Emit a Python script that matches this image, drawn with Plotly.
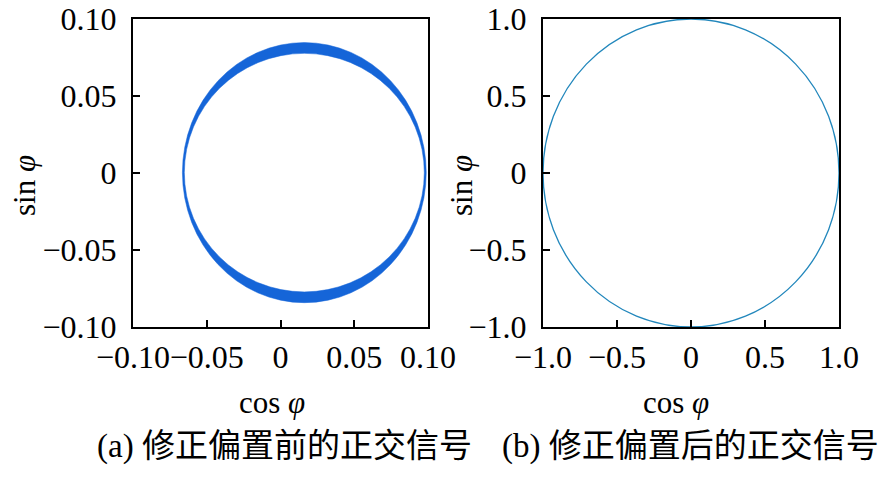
import plotly.graph_objs as go

# left panel: band between two ellipses (extents)
band_outer = [-0.0665, 0.0988, -0.0842, 0.0847]   # x0, x1, y0, y1
band_inner = [-0.0652, 0.0975, -0.0772, 0.0777]
# right panel: corrected signal, unit circle
circle_box = [-1.0, 1.0, -1.0, 1.0]

left_ticks = [-0.10, -0.05, 0, 0.05, 0.10]
left_text = ["\u22120.10", "\u22120.05", "0", "0.05", "0.10"]
right_ticks = [-1.0, -0.5, 0, 0.5, 1.0]
right_text = ["\u22121.0", "\u22120.5", "0", "0.5", "1.0"]

captions = ["(a) 修正偏置前的正交信号", "(b) 修正偏置后的正交信号"]

SERIF = "Liberation Serif, Times New Roman, serif"
MIXED = "Liberation Serif, Noto Sans CJK SC, serif"
W, H = 886, 477


def px(x):
    return x / W


def py_(y):
    return (H - y) / H


fig = go.Figure()
fig.add_trace(go.Scatter(x=[], y=[], xaxis="x", yaxis="y", showlegend=False))
fig.add_trace(go.Scatter(x=[], y=[], xaxis="x2", yaxis="y2", showlegend=False))


def ellipse(box, xref, yref, **kw):
    fig.add_shape(type="circle", xref=xref, yref=yref,
                  x0=box[0], x1=box[1], y0=box[2], y1=box[3], layer="below", **kw)


ellipse(band_outer, "x", "y", fillcolor="#1565D8", line=dict(color="#1565D8", width=0.5))
ellipse(band_inner, "x", "y", fillcolor="white", line=dict(color="#1565D8", width=0.5))
ellipse(circle_box, "x2", "y2", line=dict(color="#2287BC", width=1.3))

axis_common = dict(showline=True, mirror=True, linecolor="black", linewidth=2,
                   ticks="inside", ticklen=7, tickwidth=2, tickcolor="black",
                   showgrid=False, zeroline=False, tickmode="array",
                   automargin=False, tickangle=0,
                   tickfont=dict(family=SERIF, size=32, color="black"))

fig.update_layout(
    width=W, height=H,
    margin=dict(l=0, r=0, t=0, b=0),
    paper_bgcolor="white", plot_bgcolor="white",
    xaxis=dict(domain=[px(133), px(428)], range=[-0.1, 0.1],
               tickvals=left_ticks, ticktext=left_text, anchor="y",
               ticklabelstandoff=1, **axis_common),
    yaxis=dict(domain=[py_(327), py_(19)], range=[-0.1, 0.1],
               tickvals=left_ticks, ticktext=left_text, anchor="x",
               ticklabelstandoff=8, **axis_common),
    xaxis2=dict(domain=[px(543), px(839)], range=[-1, 1],
                tickvals=right_ticks, ticktext=right_text, anchor="y2",
                ticklabelstandoff=1, **axis_common),
    yaxis2=dict(domain=[py_(327), py_(19)], range=[-1, 1],
                tickvals=right_ticks, ticktext=right_text, anchor="x2",
                ticklabelstandoff=8, **axis_common),
)

title_font = dict(family=SERIF, size=31, color="black")
for xc in [272, 676]:
    fig.add_annotation(text="cos <i>\u03c6</i>", x=px(xc), y=py_(402),
                       xref="paper", yref="paper", showarrow=False,
                       xanchor="center", yanchor="middle", font=title_font)
for xc in [24, 461]:
    fig.add_annotation(text="sin <i>\u03c6</i>", x=px(xc), y=py_(186),
                       xref="paper", yref="paper", showarrow=False, textangle=-90,
                       xanchor="center", yanchor="middle", font=title_font)
for xc, cap in zip([284, 690], captions):
    fig.add_annotation(text=cap, x=px(xc), y=py_(446),
                       xref="paper", yref="paper", showarrow=False,
                       xanchor="center", yanchor="middle",
                       font=dict(family=MIXED, size=33, color="black"))

# drop the default page margin so the figure sits at the window corner
fig.write_html("out.html", config={"displayModeBar": False},
               post_script="document.body.style.margin='0';")
